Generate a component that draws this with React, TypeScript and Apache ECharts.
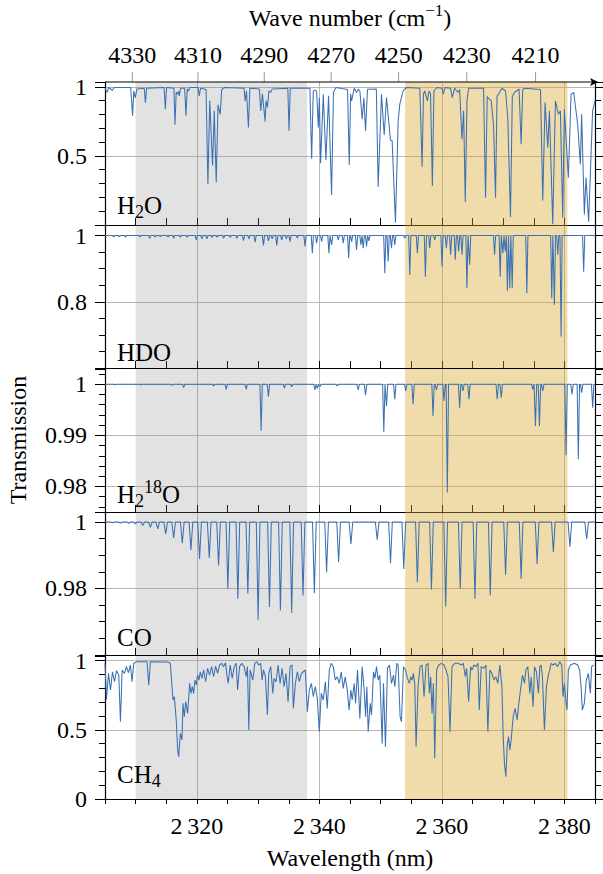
import React, { useEffect, useRef } from 'react';
import * as echarts from 'echarts';

// ---------- data ----------
const X_MIN = 2305;
const X_MAX = 2385;
const grayBand = [2310, 2338];
const tanBand = [2354, 2380.5];
const waveNumberTicks = [4330, 4310, 4290, 4270, 4250, 4230, 4210];

// H2O transmission (wavelength nm, transmission)
const h2oSpectrum = [
  [2305.0, 0.99], [2305.35, 0.96], [2305.6, 0.995], [2306.2, 0.975], [2306.5, 0.995],
  [2309.2, 0.995], [2309.5, 0.79], [2309.7, 0.97], [2309.95, 0.92], [2310.2, 0.985],
  [2311.4, 0.99], [2311.6, 0.886], [2311.8, 0.99],
  [2314.65, 0.995], [2314.85, 0.84], [2315.05, 0.995],
  [2316.25, 0.99], [2316.43, 0.725], [2316.62, 0.96], [2316.86, 0.947], [2317.0, 0.97], [2317.13, 0.935], [2317.35, 0.99],
  [2318.0, 0.99], [2318.22, 0.79], [2318.42, 0.985], [2318.65, 0.97], [2318.85, 0.995],
  [2320.2, 0.995], [2320.39, 0.935], [2320.6, 0.99],
  [2321.5, 0.98], [2321.8, 0.295], [2322.1, 0.9], [2322.56, 0.43], [2322.84, 0.826], [2323.16, 0.307], [2323.45, 0.87], [2323.81, 0.8], [2324.05, 0.98], [2324.5, 0.995],
  [2327.7, 0.99], [2327.88, 0.898], [2328.1, 0.97], [2328.42, 0.705], [2328.65, 0.99],
  [2330.2, 0.985], [2330.43, 0.826], [2330.7, 0.95], [2331.14, 0.75], [2331.3, 0.9], [2331.52, 0.85], [2331.75, 0.97], [2332.06, 0.96], [2332.3, 0.985],
  [2334.85, 0.99], [2335.05, 0.68], [2335.25, 0.99],
  [2338.45, 0.99], [2338.74, 0.48], [2339.0, 0.97], [2339.28, 0.976], [2339.55, 0.97], [2339.82, 0.705], [2340.0, 0.92], [2340.2, 0.447], [2340.64, 0.947], [2341.07, 0.47], [2341.5, 0.935], [2341.99, 0.217], [2342.3, 0.96], [2342.7, 0.995],
  [2344.6, 0.98], [2344.88, 0.434], [2345.1, 0.95], [2345.26, 0.898], [2345.69, 0.99], [2346.07, 0.959], [2346.34, 0.983], [2346.61, 0.97], [2346.99, 0.765], [2347.26, 0.92], [2347.54, 0.68], [2347.86, 0.983],
  [2349.3, 0.985], [2349.6, 0.275], [2350.14, 0.947], [2350.58, 0.652], [2350.96, 0.922], [2351.61, 0.613], [2351.88, 0.609], [2352.42, 0.017], [2352.86, 0.75], [2353.13, 0.874], [2353.67, 0.97], [2354.21, 0.995],
  [2356.4, 0.99], [2356.77, 0.422], [2357.0, 0.95], [2357.2, 0.97], [2357.63, 0.898], [2357.9, 0.97], [2358.15, 0.95], [2358.45, 0.283], [2358.7, 0.97], [2359.2, 0.995],
  [2360.0, 0.99], [2360.24, 0.947], [2360.5, 0.995], [2361.4, 0.99], [2361.7, 0.922], [2362.08, 0.99], [2362.63, 0.959], [2362.9, 0.98], [2363.28, 0.62], [2363.55, 0.826], [2363.82, 0.166], [2364.1, 0.9], [2364.37, 0.99],
  [2366.8, 0.99], [2367.13, 0.198], [2367.4, 0.93], [2367.51, 0.922], [2368.06, 0.898], [2368.44, 0.717], [2368.76, 0.198], [2369.0, 0.93], [2369.25, 0.947], [2369.8, 0.99],
  [2370.4, 0.97], [2370.77, 0.765], [2371.2, 0.058], [2371.5, 0.93], [2371.86, 0.959], [2372.6, 0.985], [2372.94, 0.584], [2373.2, 0.98], [2373.49, 0.99],
  [2376.1, 0.98], [2376.47, 0.178], [2376.85, 0.886], [2377.29, 0.56], [2377.56, 0.826], [2378.1, 0.005], [2378.54, 0.898], [2379.03, 0.802], [2379.35, 0.826], [2379.73, 0.053], [2380.0, 0.838], [2380.65, 0.343], [2381.09, 0.947], [2381.52, 0.959], [2382.17, 0.729], [2382.61, 0.439], [2382.82, 0.802], [2383.26, 0.077], [2383.53, 0.343], [2383.96, 0.024], [2384.61, 0.826], [2385.0, 0.9],
];

// HDO absorption lines (centre nm, transmission at centre)
const hdoLines = [
  [2306.44, 0.996], [2307.3, 0.997], [2308.34, 0.995], [2310.67, 0.996], [2312.3, 0.992], [2313.2, 0.996], [2314.04, 0.997], [2315.3, 0.996],
  [2316.21, 0.992], [2317.3, 0.995], [2318.4, 0.995], [2319.9, 0.987], [2320.83, 0.99], [2321.64, 0.99], [2322.46, 0.994], [2323.3, 0.995],
  [2324.36, 0.992], [2325.44, 0.994], [2326.53, 0.992], [2327.61, 0.985], [2328.5, 0.99], [2329.51, 0.98], [2330.87, 0.97], [2331.68, 0.984],
  [2332.3, 0.99], [2333.04, 0.97], [2333.85, 0.987], [2334.6, 0.99], [2335.21, 0.982], [2336.4, 0.993], [2337.65, 0.967], [2338.85, 0.947],
  [2339.55, 0.977], [2340.37, 0.982], [2341.56, 0.947], [2342.0, 0.972], [2343.08, 0.987], [2343.9, 0.977], [2344.78, 0.932], [2345.26, 0.982],
  [2346.07, 0.957], [2346.78, 0.972], [2347.16, 0.962], [2347.7, 0.967], [2348.08, 0.984], [2350.68, 0.886], [2351.23, 0.922], [2351.77, 0.962],
  [2352.31, 0.972], [2353.94, 0.992], [2354.76, 0.881], [2356.0, 0.947], [2357.31, 0.876], [2358.01, 0.962], [2358.83, 0.987], [2360.02, 0.907],
  [2360.73, 0.962], [2361.43, 0.942], [2362.19, 0.927], [2362.74, 0.952], [2363.28, 0.942], [2364.09, 0.841], [2364.53, 0.912], [2368.6, 0.942],
  [2369.52, 0.876], [2369.96, 0.947], [2370.35, 0.952], [2370.7, 0.833], [2371.08, 0.841], [2371.48, 0.841], [2373.87, 0.826], [2377.94, 0.811],
  [2378.37, 0.791], [2378.92, 0.942], [2379.46, 0.695], [2383.15, 0.891],
];

// H2(18)O absorption lines
const h218oLines = [
  [2306.6, 0.9999], [2310.9, 0.9999], [2316.0, 0.9998], [2317.84, 0.99935], [2322.73, 0.99967], [2324.79, 0.99902], [2328.05, 0.99902],
  [2330.49, 0.99089], [2331.68, 0.99759], [2334.29, 0.99928], [2335.48, 0.99954], [2339.28, 0.99889], [2339.66, 0.9992], [2340.1, 0.99954],
  [2342.92, 0.99967], [2346.34, 0.99889], [2347.54, 0.99785], [2350.52, 0.99069], [2350.96, 0.99577], [2352.31, 0.99707], [2354.1, 0.9987],
  [2355.3, 0.99609], [2358.56, 0.99382], [2359.1, 0.99889], [2360.35, 0.99674], [2360.89, 0.97884], [2362.9, 0.99544], [2363.44, 0.9987],
  [2364.42, 0.99707], [2369.04, 0.99707], [2369.69, 0.9974], [2374.84, 0.999], [2375.28, 0.99186], [2375.93, 0.99186], [2376.47, 0.9987],
  [2380.27, 0.98613], [2381.25, 0.99805], [2382.28, 0.98535], [2382.82, 0.99837], [2384.62, 0.99544],
];

// CO absorption lines
const coLines = [
  [2306.2, 0.9998], [2307.52, 0.9997], [2308.88, 0.9996], [2309.97, 0.9994], [2311.16, 0.9989], [2312.41, 0.9984], [2313.61, 0.9979],
  [2314.91, 0.9964], [2316.21, 0.9952], [2317.62, 0.9936], [2319.03, 0.9916], [2320.44, 0.9889], [2322.02, 0.9892], [2323.54, 0.9869],
  [2325.06, 0.9799], [2326.69, 0.9769], [2328.32, 0.9784], [2330.0, 0.9706], [2331.85, 0.9744], [2333.64, 0.9734], [2335.48, 0.9726],
  [2337.33, 0.9779], [2339.18, 0.9786], [2341.18, 0.9849], [2343.14, 0.9879], [2345.15, 0.9934], [2349.44, 0.9947], [2351.61, 0.9876],
  [2353.78, 0.9859], [2356.0, 0.9819], [2358.3, 0.9797], [2360.62, 0.9746], [2363.0, 0.9799], [2365.4, 0.9769], [2367.9, 0.9779],
  [2370.4, 0.9841], [2372.94, 0.9829], [2375.55, 0.9874], [2378.2, 0.9909], [2380.9, 0.9926], [2383.64, 0.9949],
];

// CH4 transmission (wavelength nm, transmission)
const ch4Spectrum = [
  [2305.0, 0.981], [2305.24, 0.72], [2305.57, 0.908], [2305.9, 0.788], [2306.22, 0.92], [2306.55, 0.848], [2306.87, 0.928], [2307.25, 0.896],
  [2307.52, 0.559], [2307.8, 0.933], [2308.18, 0.908], [2308.5, 0.957], [2308.83, 0.913], [2309.15, 0.969], [2309.42, 0.848], [2309.7, 0.981],
  [2310.24, 0.993], [2311.87, 0.993], [2312.14, 0.824], [2312.41, 0.993], [2315.13, 0.99], [2315.67, 0.981], [2316.1, 0.716], [2316.32, 0.74],
  [2316.65, 0.559], [2316.86, 0.354], [2317.03, 0.306], [2317.3, 0.475], [2317.57, 0.427], [2317.73, 0.692], [2317.95, 0.595], [2318.17, 0.704],
  [2318.49, 0.619], [2318.82, 0.836], [2319.03, 0.764], [2319.25, 0.812], [2319.47, 0.764], [2319.69, 0.86], [2319.9, 0.824], [2320.12, 0.896],
  [2320.34, 0.86], [2320.55, 0.92], [2320.83, 0.872], [2321.1, 0.933], [2321.42, 0.848], [2321.75, 0.945], [2322.08, 0.896], [2322.4, 0.957],
  [2322.73, 0.884], [2323.05, 0.961], [2323.38, 0.908], [2323.71, 0.969], [2324.03, 0.981], [2324.36, 0.957], [2324.68, 0.986], [2324.9, 0.896],
  [2325.12, 0.836], [2325.44, 0.969], [2325.77, 0.872], [2326.09, 0.957], [2326.42, 0.981], [2326.64, 0.788], [2326.96, 0.957], [2327.34, 0.981],
  [2327.72, 0.957], [2328.05, 0.884], [2328.26, 0.957], [2328.48, 0.499], [2328.7, 0.933], [2329.13, 0.86], [2329.46, 0.981], [2329.78, 0.993],
  [2330.11, 0.969], [2330.43, 0.981], [2330.65, 0.86], [2330.87, 0.933], [2331.19, 0.884], [2331.52, 0.607], [2331.74, 0.908], [2332.06, 0.957],
  [2332.39, 0.764], [2332.61, 0.872], [2332.93, 0.848], [2333.26, 0.969], [2333.59, 0.836], [2333.91, 0.945], [2334.24, 0.812], [2334.56, 0.908],
  [2334.89, 0.704], [2335.21, 0.957], [2335.54, 0.969], [2335.75, 0.655], [2336.08, 0.836], [2336.41, 0.92], [2336.73, 0.848], [2337.06, 0.908],
  [2337.38, 0.92], [2337.71, 0.933], [2338.04, 0.631], [2338.36, 0.788], [2338.69, 0.836], [2339.01, 0.74], [2339.34, 0.812], [2339.66, 0.728],
  [2339.99, 0.487], [2340.31, 0.764], [2340.64, 0.716], [2340.97, 0.848], [2341.29, 0.655], [2341.62, 0.933], [2341.94, 0.981], [2342.27, 0.957],
  [2342.6, 0.86], [2342.92, 0.884], [2343.25, 0.836], [2343.57, 0.92], [2343.9, 0.8], [2344.22, 0.884], [2344.55, 0.788], [2344.85, 0.643],
  [2345.15, 0.788], [2345.36, 0.716], [2345.69, 0.836], [2345.91, 0.692], [2346.23, 0.933], [2346.61, 0.583], [2346.99, 0.957], [2347.32, 0.788],
  [2347.54, 0.595], [2347.75, 0.812], [2347.97, 0.487], [2348.3, 0.692], [2348.51, 0.607], [2348.84, 0.92], [2349.06, 0.872], [2349.33, 0.957],
  [2349.6, 0.86], [2349.87, 0.896], [2350.25, 0.402], [2350.47, 0.836], [2350.79, 0.378], [2351.12, 0.945], [2351.44, 0.969], [2351.77, 0.836],
  [2352.1, 0.896], [2352.31, 0.812], [2352.64, 0.981], [2352.86, 0.969], [2353.18, 0.595], [2353.4, 0.559], [2353.73, 0.957], [2354.05, 0.933],
  [2354.38, 0.872], [2354.7, 0.836], [2354.92, 0.884], [2355.14, 0.86], [2355.35, 0.908], [2355.57, 0.836], [2355.79, 0.378], [2356.11, 0.812],
  [2356.44, 0.957], [2356.77, 0.969], [2357.09, 0.74], [2357.42, 0.969], [2357.74, 0.981], [2357.96, 0.764], [2358.18, 0.884], [2358.39, 0.619],
  [2358.61, 0.836], [2358.83, 0.294], [2359.15, 0.933], [2359.48, 0.969], [2359.91, 0.981], [2360.35, 0.969], [2360.67, 0.933], [2361.0, 0.884],
  [2361.33, 0.487], [2361.65, 0.957], [2362.09, 0.981], [2362.63, 0.981], [2363.17, 0.969], [2363.5, 0.981], [2363.82, 0.884], [2364.04, 0.945],
  [2364.37, 0.704], [2364.69, 0.957], [2364.91, 0.933], [2365.24, 0.969], [2365.56, 0.957], [2365.89, 0.981], [2366.1, 0.643], [2366.43, 0.957],
  [2366.86, 0.945], [2367.19, 0.969], [2367.51, 0.487], [2367.84, 0.933], [2368.17, 0.908], [2368.49, 0.86], [2368.82, 0.884], [2369.14, 0.836],
  [2369.47, 0.969], [2369.8, 0.812], [2370.01, 0.451], [2370.23, 0.246], [2370.45, 0.161], [2370.66, 0.378], [2370.88, 0.451], [2371.1, 0.354],
  [2371.31, 0.427], [2371.64, 0.595], [2371.97, 0.655], [2372.29, 0.571], [2372.51, 0.667], [2372.83, 0.788], [2373.16, 0.896], [2373.49, 0.836],
  [2373.7, 0.933], [2374.03, 0.957], [2374.36, 0.764], [2374.57, 0.884], [2374.9, 0.667], [2375.12, 0.957], [2375.44, 0.92], [2375.77, 0.764],
  [2375.99, 0.957], [2376.2, 0.969], [2376.42, 0.884], [2376.74, 0.499], [2377.07, 0.812], [2377.39, 0.896], [2377.61, 0.933], [2377.83, 0.981],
  [2378.16, 0.969], [2378.48, 0.981], [2378.92, 0.957], [2379.24, 0.993], [2379.57, 0.969], [2379.78, 0.74], [2380.0, 0.836], [2380.22, 0.716],
  [2380.43, 0.643], [2380.65, 0.933], [2380.98, 0.969], [2381.63, 0.981], [2382.17, 0.969], [2382.5, 0.933], [2382.72, 0.812], [2382.93, 0.643],
  [2383.26, 0.692], [2383.58, 0.86], [2383.91, 0.908], [2384.24, 0.764], [2384.45, 0.957], [2384.78, 0.969],
];

// ---------- layout / style ----------
const SERIF = "'Liberation Serif', 'Times New Roman', serif";
const LINE_COLOR = '#3b71b3';
const GRID_COLOR = '#b8b8b8';
const GRAY_FILL = 'rgba(128,128,128,0.23)';
const TAN_FILL = 'rgba(218,168,45,0.40)';
const PLOT_LEFT = 105;
const PLOT_WIDTH = 490;
const PANEL_TOPS = [82, 225, 369, 512, 656];
const PANEL_H = 143;
const Y_RANGES = [[0, 1.035], [0.6, 1.032], [0.975, 1.003], [0.96, 1.003], [0, 1.034]];
const Y_MAJOR = [0.5, 0.2, 0.01, 0.02, 0.5];
const Y_MINOR_SPLIT = [5, 4, 5, 4, 5];
const LABEL_Y = [205, 352, 494, 637, 774];
const LABEL_TEXT = ['{m|H}{s|2}{m|O}', '{m|HDO}', '{m|H}{s|2}{p|18}{m|O}', '{m|CO}', '{m|CH}{s|4}'];
const DIP_HALF = [0, 0.18, 0.2, 0.3, 0];
const TICK_FONT = 24;

function dipProfile(lines: number[][], half: number): number[][] {
  const pts: number[][] = [[X_MIN, 1], [X_MAX, 1]];
  lines.forEach(([c, t]) => {
    pts.push([c - half, 1], [c, t], [c + half, 1]);
  });
  return pts.sort((a, b) => a[0] - b[0]);
}

const richStyles = (size: number) => ({
  m: { fontSize: size, lineHeight: 32, fontFamily: SERIF, fill: '#000' },
  s: { fontSize: Math.round(size * 0.7), lineHeight: 17, fontFamily: SERIF, fill: '#000', verticalAlign: 'bottom' },
  p: { fontSize: Math.round(size * 0.7), lineHeight: 17, fontFamily: SERIF, fill: '#000', verticalAlign: 'top' },
});

function buildOption() {
  const spectra = [
    h2oSpectrum,
    dipProfile(hdoLines, DIP_HALF[1]),
    dipProfile(h218oLines, DIP_HALF[2]),
    dipProfile(coLines, DIP_HALF[3]),
    ch4Spectrum,
  ];
  const n = PANEL_TOPS.length;
  const grid = PANEL_TOPS.map((t) => ({ left: PLOT_LEFT, width: PLOT_WIDTH, top: t, height: PANEL_H, show: false }));
  const xAxis = PANEL_TOPS.map((_, i) => {
    const last = i === n - 1;
    return {
      type: 'value', gridIndex: i, min: X_MIN, max: X_MAX, minInterval: 20, maxInterval: 20,
      axisLine: { show: true, onZero: false, lineStyle: { color: '#000', width: 1.2 } },
      axisTick: { show: true, inside: !last, length: last ? 5 : 7, lineStyle: { color: '#000', width: 1 } },
      minorTick: { show: true, splitNumber: 4, length: last ? 5 : 7, lineStyle: { color: '#000', width: 1 } },
      axisLabel: {
        show: last, margin: 15, fontFamily: SERIF, fontSize: TICK_FONT, color: '#000',
        formatter: (v: number) => (v % 20 === 0 ? String(v).slice(0, 1) + '\u2009' + String(v).slice(1) : ''),
      },
      splitLine: { show: true, showMinLine: false, showMaxLine: false, lineStyle: { color: GRID_COLOR, width: 1 } },
    };
  });
  const yAxis: any[] = [];
  PANEL_TOPS.forEach((_, i) => {
    const base = {
      type: 'value', gridIndex: i, min: Y_RANGES[i][0], max: Y_RANGES[i][1],
      minInterval: Y_MAJOR[i], maxInterval: Y_MAJOR[i],
      axisLine: { show: true, onZero: false, lineStyle: { color: '#000', width: 1.2 } },
      axisTick: { show: true, inside: false, length: 10, lineStyle: { color: '#000', width: 1 } },
      minorTick: { show: true, splitNumber: Y_MINOR_SPLIT[i], length: 6, lineStyle: { color: '#000', width: 1 } },
    };
    yAxis.push({
      ...base, position: 'left',
      axisLabel: { show: true, showMinLabel: i === n - 1, showMaxLabel: false, margin: 18, fontFamily: SERIF, fontSize: TICK_FONT, color: '#000' },
      splitLine: { show: true, showMinLine: false, showMaxLine: false, lineStyle: { color: GRID_COLOR, width: 1 } },
    });
    yAxis.push({ ...base, position: 'right', axisLabel: { show: false }, splitLine: { show: false } });
  });

  const series: any[] = spectra.map((data, i) => ({
    type: 'line', xAxisIndex: i, yAxisIndex: 2 * i, data, showSymbol: false, symbol: 'none',
    lineStyle: { color: LINE_COLOR, width: 1.05 }, clip: true, silent: true, z: 3,
    markArea: {
      silent: true,
      data: [
        [{ xAxis: grayBand[0], itemStyle: { color: GRAY_FILL } }, { xAxis: grayBand[1] }],
        [{ xAxis: tanBand[0], itemStyle: { color: TAN_FILL } }, { xAxis: tanBand[1] }],
      ],
    },
  }));

  series.push({
    type: 'custom', xAxisIndex: 0, yAxisIndex: 0, silent: true, z: 10, clip: false,
    data: waveNumberTicks.map((nu) => [1e7 / nu, nu]),
    encode: { x: 0 },
    renderItem: (_p: any, api: any) => {
      const lam = api.value(0);
      const nu = api.value(1);
      const pt = api.coord([lam, Y_RANGES[0][1]]);
      return {
        type: 'group',
        children: [
          { type: 'line', shape: { x1: pt[0], y1: pt[1], x2: pt[0], y2: pt[1] - 10 }, style: { stroke: '#9a9a9a', lineWidth: 1 } },
          {
            type: 'text', x: pt[0], y: pt[1] - 27,
            style: { text: String(nu), fill: '#000', fontSize: TICK_FONT, fontFamily: SERIF, align: 'center', verticalAlign: 'middle', textAlign: 'center', textVerticalAlign: 'middle' },
          },
        ],
      };
    },
  });

  const graphic: any[] = [
    { type: 'line', z: 20, shape: { x1: PLOT_LEFT, y1: PANEL_TOPS[0], x2: PLOT_LEFT + PLOT_WIDTH + 2, y2: PANEL_TOPS[0] }, style: { stroke: '#000', lineWidth: 1.2 } },
    { type: 'polygon', z: 20, shape: { points: [[PLOT_LEFT + PLOT_WIDTH + 3, PANEL_TOPS[0]], [PLOT_LEFT + PLOT_WIDTH - 5, PANEL_TOPS[0] - 4], [PLOT_LEFT + PLOT_WIDTH - 3, PANEL_TOPS[0]], [PLOT_LEFT + PLOT_WIDTH - 5, PANEL_TOPS[0] + 4]] }, style: { fill: '#000' } },
    {
      type: 'text', x: PLOT_LEFT + PLOT_WIDTH / 2, y: 18, z: 20,
      style: { text: '{m|Wave number (cm}{p|\u22121}{m|)}', rich: richStyles(24), align: 'center', verticalAlign: 'middle', textAlign: 'center', textVerticalAlign: 'middle' },
    },
    {
      type: 'text', x: PLOT_LEFT + PLOT_WIDTH / 2, y: 858, z: 20,
      style: { text: 'Wavelength (nm)', fill: '#000', fontSize: 24, fontFamily: SERIF, align: 'center', verticalAlign: 'middle', textAlign: 'center', textVerticalAlign: 'middle' },
    },
    {
      type: 'text', x: 18, y: 440, rotation: Math.PI / 2, z: 20,
      style: { text: 'Transmission', fill: '#000', fontSize: 24, fontFamily: SERIF, align: 'center', verticalAlign: 'middle', textAlign: 'center', textVerticalAlign: 'middle' },
    },
  ];
  LABEL_TEXT.forEach((t, i) => {
    graphic.push({
      type: 'text', x: 117, y: LABEL_Y[i], z: 20,
      style: { text: t, rich: richStyles(25), align: 'left', verticalAlign: 'middle', textAlign: 'left', textVerticalAlign: 'middle' },
    });
  });

  return { animation: false, backgroundColor: '#fff', grid, xAxis, yAxis, series, graphic };
}

export default function App() {
  const ref = useRef<HTMLDivElement>(null);
  useEffect(() => {
    if (!ref.current) return;
    const chart = echarts.init(ref.current, null, { renderer: 'svg' });
    chart.setOption(buildOption() as any);
    return () => chart.dispose();
  }, []);
  return <div ref={ref} style={{ position: 'absolute', left: 0, top: 0, width: 603, height: 874, background: '#fff' }} />;
}
